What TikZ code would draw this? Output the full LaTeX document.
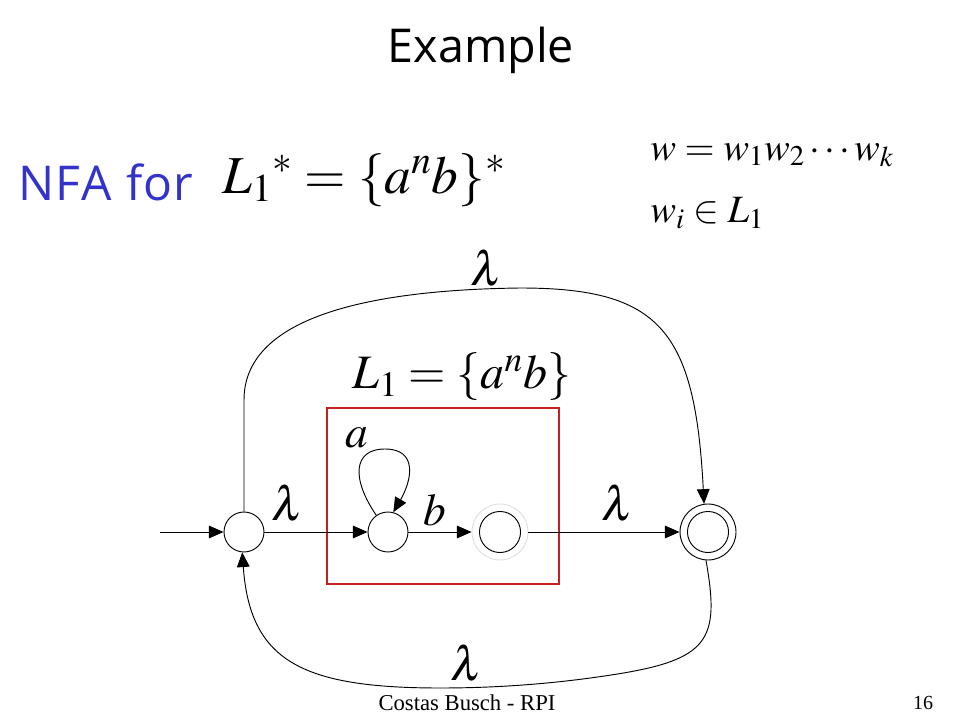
\documentclass[tikz,border=0pt]{standalone}
\usepackage{mathptmx}
\usepackage{fontspec}
\setmainfont{Liberation Serif}
\newfontfamily\comicfont{Open Sans}
\usetikzlibrary{arrows.meta}
\definecolor{nfablue}{RGB}{51,51,204}
\definecolor{boxred}{RGB}{200,30,30}
\begin{document}
\begin{tikzpicture}[x=0.75pt,y=-0.75pt,
  state/.style={circle,draw,line width=0.7pt,minimum size=30pt,inner sep=0pt},
  arr/.style={line width=0.7pt,-{Triangle[length=11pt,width=9.5pt]}},
  lbl/.style={inner sep=0pt,font=\fontsize{36}{36}\selectfont},
]
\useasboundingbox (0,0) rectangle (960,720);
\fill[white] (0,0) rectangle (960,720);

% title and headings
\node[inner sep=0pt,font=\comicfont\fontsize{35}{35}\selectfont] (title) at (481,50) {Example};
\node[inner sep=0pt,anchor=west,text=nfablue,font=\comicfont\fontsize{36}{36}\selectfont] (nfa) at (18,182) {N\kern1pt F\kern1pt A\kern1pt\ f\kern1pt o\kern1pt r};
\node[inner sep=0pt,font=\fontsize{40}{40}\selectfont] (f1) at (364,180) {$L_1{}^{*} = \{a^n b\}^{*}$};
\node[inner sep=0pt,anchor=west,font=\fontsize{29}{29}\selectfont] (w1) at (650,155) {$w = w_1 w_2 \cdots w_k$};
\node[inner sep=0pt,anchor=west,font=\fontsize{29}{29}\selectfont] (w2) at (650,213) {$w_i \in L_1$};
\node[inner sep=0pt,font=\fontsize{36}{36}\selectfont] (f2) at (462,377) {$L_1 = \{a^n b\}$};

% red box
\draw[boxred,line width=0.8pt] (327,408) rectangle (559,584);

% states
\node[state] (q0) at (244,532) {};
\node[state] (q1) at (388,532) {};
\node[state,draw=black!12,minimum size=42pt] (q2) at (500,532) {};
\draw[line width=0.7pt] (q2.center) circle[radius=15.4pt];
\node[state,minimum size=42pt] (q3) at (708,532) {};
\draw[line width=0.7pt] (q3.center) circle[radius=15.4pt];
\coordinate (start) at (160,532);

% transitions
\draw[arr] (start) -- (q0);
\draw[arr] (q0) -- (q1);
\draw[arr] (q1) -- (q2);
\draw[arr] (q2) -- (q3);
\draw[arr] (q1.125) .. controls (352,480) and (352,449) .. (385,449) .. controls (418,449) and (412,480) .. (q1.75);
\draw[arr] (q0.north) -- (244,400) .. controls (244,320) and (360,290) .. (520,288) .. controls (660,288) and (695,330) .. (q3.98);
\draw[arr] (q3.266) .. controls (720,640) and (710,660) .. (611,675) .. controls (540,686) and (480,688) .. (440,688) .. controls (300,688) and (250,660) .. (q0.265);

% labels
\node[lbl,font=\fontsize{34}{34}\selectfont] (la) at (357,438) {$a$};
\node[lbl,font=\fontsize{34}{34}\selectfont] (lb) at (435,510) {$b$};
\node[lbl] (l01) at (288,503) {$\lambda$};
\node[lbl] (l23) at (618,503) {$\lambda$};
\node[lbl] (ltop) at (487,268) {$\lambda$};
\node[lbl] (lbot) at (467,663) {$\lambda$};

% footer
\node[inner sep=0pt,font=\fontsize{17}{17}\selectfont] (foot) at (467,703) {Costas Busch - RPI};
\node[inner sep=0pt,font=\fontsize{15}{15}\selectfont] (page) at (923,703) {16};
\end{tikzpicture}
\end{document}
